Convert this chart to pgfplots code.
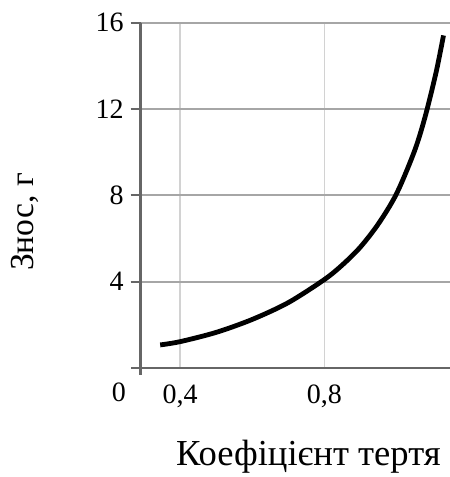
\documentclass[border=0pt]{standalone}
\usepackage{fontspec}
\setmainfont{Liberation Serif}
\usepackage{pgfplots}
\pgfplotsset{compat=1.18}
\begin{document}
\begin{tikzpicture}
\useasboundingbox (-70.35pt,-54.5pt) rectangle (154.65pt,184pt);
\begin{axis}[
  at={(0,0)}, anchor=south west,
  scale only axis,
  width=154.65pt, height=172.65pt,
  xmin=0.291, xmax=1.148,
  ymin=0, ymax=16,
  axis line style={draw=none},
  xtick={0.4,0.8},
  xticklabels={{0,4},{0,8}},
  ytick={4,8,12,16},
  yticklabels={4,8,12,16},
  tick align=outside,
  major tick length=5pt,
  tick style={draw=gray!80!black, line width=1pt},
  xtick style={draw=none},
  xmajorgrids, ymajorgrids,
  x grid style={draw=gray!35, line width=0.6pt},
  y grid style={draw=gray!70, line width=1pt},
  /pgf/number format/assume math mode=true,
  ticklabel style={font=\fontsize{14}{16}\selectfont},
  clip=false,
  xlabel={Коефіцієнт тертя},
  ylabel={Знос, г},
  xlabel style={at={(axis description cs:0.542,-0.281)}, anchor=base, font=\fontsize{18.3}{21}\selectfont},
  ylabel style={at={(axis description cs:-0.374,0.423)}, anchor=center, font=\fontsize{16.8}{19}\selectfont},
]
\draw[gray!80!black, line width=1.2pt] (axis cs:0.291,16) -- (axis cs:0.291,0);
\draw[gray!80!black, line width=1.2pt] (axis cs:0.291,0) -- +(0pt,-3.5pt);
\draw[gray!80!black, line width=1.2pt] (axis cs:0.291,0) -- +(-5pt,0pt);
\draw[gray!80!black, line width=1.2pt] (axis cs:0.291,0) -- (axis cs:1.148,0);
\addplot[black, line width=2.4pt, smooth] coordinates {
(0.345,1.07) (0.40,1.22) (0.50,1.65) (0.60,2.25) (0.70,3.03) (0.80,4.10)
(0.85,4.78) (0.90,5.61) (0.95,6.69) (1.00,8.08) (1.05,10.07) (1.08,11.70)
(1.11,13.74) (1.13,15.41)
};
\node[font=\fontsize{14}{16}\selectfont] at (axis cs:0.291,0) [xshift=-10.85pt,yshift=-12pt] {0};
\end{axis}
\end{tikzpicture}
\end{document}
